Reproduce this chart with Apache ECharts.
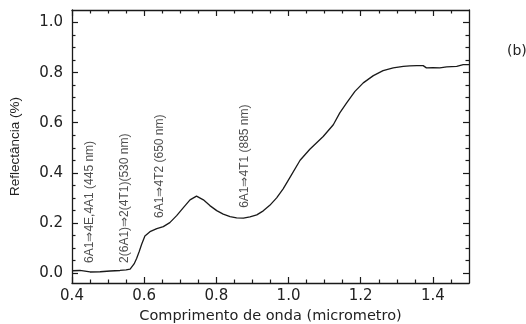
<!DOCTYPE html>
<html>
<head>
<meta charset="utf-8">
<script src="https://cdn.jsdelivr.net/npm/echarts@6/dist/echarts.min.js"></script>
<style>
  html, body { margin: 0; padding: 0; background: #ffffff; }
  #chart { width: 526px; height: 324px; }
</style>
</head>
<body>
<div id="chart"></div>
<script>
// Reflectance spectrum (wavelength in micrometres)
const wavelength = [0.400, 0.422, 0.450, 0.478, 0.506, 0.533, 0.550, 0.561, 0.572, 0.579,
  0.586, 0.593, 0.602, 0.616, 0.635, 0.653, 0.671, 0.690, 0.708, 0.727,
  0.745, 0.764, 0.782, 0.801, 0.819, 0.838, 0.856, 0.875, 0.893, 0.912,
  0.930, 0.948, 0.967, 0.985, 1.004, 1.032, 1.059, 1.096, 1.124, 1.142,
  1.161, 1.184, 1.207, 1.235, 1.262, 1.290, 1.318, 1.336, 1.355, 1.373,
  1.382, 1.400, 1.419, 1.438, 1.466, 1.484, 1.500];
const reflectance = [0.009, 0.010, 0.004, 0.005, 0.008, 0.010, 0.012, 0.015, 0.036, 0.058,
  0.085, 0.115, 0.148, 0.165, 0.177, 0.185, 0.201, 0.229, 0.260, 0.292,
  0.307, 0.292, 0.269, 0.249, 0.235, 0.225, 0.220, 0.219, 0.224, 0.232,
  0.248, 0.270, 0.300, 0.336, 0.382, 0.450, 0.494, 0.545, 0.592, 0.639,
  0.679, 0.725, 0.759, 0.788, 0.808, 0.819, 0.825, 0.827, 0.828, 0.828,
  0.819, 0.820, 0.819, 0.823, 0.825, 0.832, 0.832];

// Axis ticks
const xMajorTicks = [0.4, 0.6, 0.8, 1.0, 1.2, 1.4];
const xMinorTicks = [0.45, 0.5, 0.55, 0.65, 0.7, 0.75, 0.85, 0.9, 0.95,
  1.05, 1.1, 1.15, 1.25, 1.3, 1.35, 1.45];
const yMajorTicks = [0.0, 0.2, 0.4, 0.6, 0.8, 1.0];
const yMinorTicks = [0.05, 0.1, 0.15, 0.25, 0.3, 0.35, 0.45, 0.5, 0.55,
  0.65, 0.7, 0.75, 0.85, 0.9, 0.95];

// Electronic transition annotations
const transitionLabels = ['6A1⇒4E,4A1 (445 nm)', '2(6A1)⇒2(4T1)(530 nm)',
  '6A1⇒4T2 (650 nm)', '6A1⇒4T1 (885 nm)'];
const transitionX = [0.45, 0.547, 0.644, 0.879];
const transitionY = [0.04, 0.04, 0.22, 0.26];

const INK = '#1a1a1a';
const TEXT = '#222222';
const HFONT = '"DejaVu Sans", sans-serif';
const VFONT = '"Liberation Sans", Arial, sans-serif';
const X_RANGE = [0.4, 1.5];
const Y_RANGE = [-0.04, 1.05];

function xAxisDef(position, ticks, len, withLine, withLabels) {
  return {
    type: 'value', position: position, min: X_RANGE[0], max: X_RANGE[1],
    axisLine: { show: withLine, onZero: false, lineStyle: { color: INK, width: 1.3 } },
    axisTick: { show: true, inside: true, length: len, customValues: ticks,
      lineStyle: { color: INK, width: 1.2 } },
    axisLabel: withLabels ? {
      show: true, customValues: ticks, margin: 6, color: TEXT,
      fontFamily: HFONT, fontSize: 15,
      formatter: v => v.toFixed(1)
    } : { show: false },
    splitLine: { show: false },
    name: withLabels ? 'Comprimento de onda (micrometro)' : '',
    nameLocation: 'middle', nameGap: 26,
    nameTextStyle: { color: TEXT, fontFamily: HFONT, fontSize: 14.5 }
  };
}

function yAxisDef(position, ticks, len, withLine, withLabels) {
  return {
    type: 'value', position: position, min: Y_RANGE[0], max: Y_RANGE[1],
    axisLine: { show: withLine, onZero: false, lineStyle: { color: INK, width: 1.3 } },
    axisTick: { show: true, inside: true, length: len, customValues: ticks,
      lineStyle: { color: INK, width: 1.2 } },
    axisLabel: withLabels ? {
      show: true, customValues: ticks, margin: 9, color: TEXT,
      fontFamily: HFONT, fontSize: 15,
      formatter: v => v.toFixed(1)
    } : { show: false },
    splitLine: { show: false },
    name: withLabels ? 'Reflectância (%)' : '',
    nameLocation: 'middle', nameGap: 50,
    nameTextStyle: { color: TEXT, fontFamily: VFONT, fontSize: 13.5 }
  };
}

const chart = echarts.init(document.getElementById('chart'), null, { renderer: 'canvas' });

chart.setOption({
  animation: false,
  backgroundColor: '#ffffff',
  grid: { left: 72, right: 57, top: 10, bottom: 41, containLabel: false, outerBoundsMode: 'none' },
  xAxis: [
    xAxisDef('bottom', xMajorTicks, 6, true, true),
    xAxisDef('bottom', xMinorTicks, 3.5, false, false),
    xAxisDef('top', xMajorTicks, 6, true, false),
    xAxisDef('top', xMinorTicks, 3.5, false, false)
  ],
  yAxis: [
    yAxisDef('left', yMajorTicks, 6, true, true),
    yAxisDef('left', yMinorTicks, 3.5, false, false),
    yAxisDef('right', yMajorTicks, 6, true, false),
    yAxisDef('right', yMinorTicks, 3.5, false, false)
  ],
  series: [
    {
      type: 'line', xAxisIndex: 0, yAxisIndex: 0,
      data: wavelength.map((w, i) => [w, reflectance[i]]),
      showSymbol: false, smooth: false,
      lineStyle: { color: INK, width: 1.3 }
    },
    {
      type: 'scatter', xAxisIndex: 0, yAxisIndex: 0,
      symbolSize: 0, silent: true,
      data: transitionLabels.map((t, i) => ({ value: [transitionX[i], transitionY[i]], name: t })),
      label: {
        show: true, position: [0, 0], rotate: 90,
        align: 'left', verticalAlign: 'middle',
        formatter: p => p.name,
        color: TEXT, fontFamily: VFONT, fontSize: 12
      }
    }
  ],
  graphic: [
    {
      type: 'text', left: 507, top: 44,
      style: { text: '(b)', fill: TEXT, font: '14px "DejaVu Sans", sans-serif' }
    }
  ]
});
</script>
</body>
</html>
